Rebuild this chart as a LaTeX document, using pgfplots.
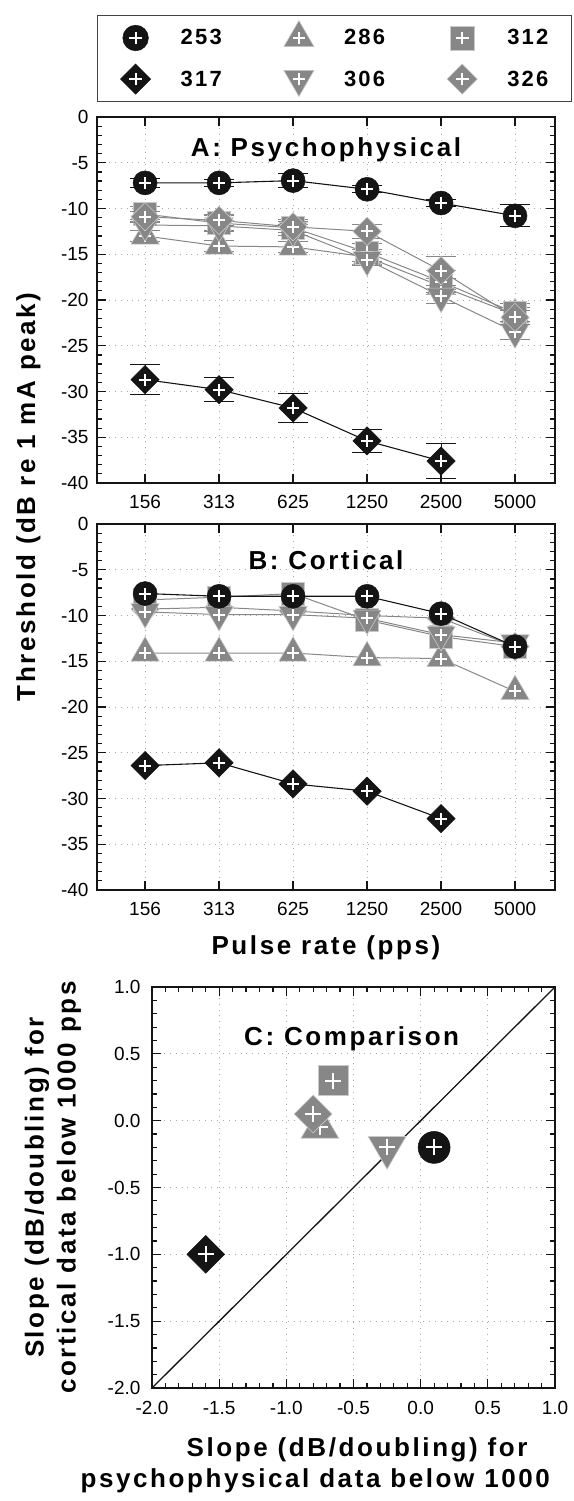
\documentclass[border=0pt]{standalone}
\usepackage{fontspec}
\setmainfont{Liberation Sans}
\newfontfamily\spaced[LetterSpace=10]{Liberation Sans}
\usepackage{pgfplots}
\pgfplotsset{compat=1.18}

\definecolor{ink}{RGB}{20,20,20}
\definecolor{midgray}{RGB}{135,135,135}
\definecolor{gridgray}{RGB}{170,170,170}
\newcommand\lbl{\spaced\bfseries\fontsize{26}{32}\selectfont}

% white cross on top of every filled marker
\newcommand\markplus{%
  \pgfscope
  \pgfsetstrokecolor{white}\pgfsetlinewidth{2pt}\pgfsetbuttcap
  \pgfpathmoveto{\pgfqpoint{-.5\pgfplotmarksize}{0pt}}%
  \pgfpathlineto{\pgfqpoint{.5\pgfplotmarksize}{0pt}}%
  \pgfpathmoveto{\pgfqpoint{0pt}{-.5\pgfplotmarksize}}%
  \pgfpathlineto{\pgfqpoint{0pt}{.5\pgfplotmarksize}}%
  \pgfusepathqstroke
  \endpgfscope}
\pgfdeclareplotmark{pcirc}{%
  \pgfpathcircle{\pgfpointorigin}{\pgfplotmarksize}\pgfusepathqfillstroke\markplus}
\pgfdeclareplotmark{pdiam}{%
  \pgfpathmoveto{\pgfqpoint{0pt}{1.18\pgfplotmarksize}}%
  \pgfpathlineto{\pgfqpoint{1.18\pgfplotmarksize}{0pt}}%
  \pgfpathlineto{\pgfqpoint{0pt}{-1.18\pgfplotmarksize}}%
  \pgfpathlineto{\pgfqpoint{-1.18\pgfplotmarksize}{0pt}}%
  \pgfpathclose\pgfusepathqfillstroke\markplus}
\pgfdeclareplotmark{psq}{%
  \pgfpathrectangle{\pgfqpoint{-.95\pgfplotmarksize}{-.95\pgfplotmarksize}}%
    {\pgfqpoint{1.9\pgfplotmarksize}{1.9\pgfplotmarksize}}%
  \pgfusepathqfillstroke\markplus}
\pgfdeclareplotmark{ptriu}{%
  \pgfpathmoveto{\pgfqpoint{0pt}{1.36\pgfplotmarksize}}%
  \pgfpathlineto{\pgfqpoint{1.18\pgfplotmarksize}{-.68\pgfplotmarksize}}%
  \pgfpathlineto{\pgfqpoint{-1.18\pgfplotmarksize}{-.68\pgfplotmarksize}}%
  \pgfpathclose\pgfusepathqfillstroke\markplus}
\pgfdeclareplotmark{ptrid}{%
  \pgfpathmoveto{\pgfqpoint{0pt}{-1.36\pgfplotmarksize}}%
  \pgfpathlineto{\pgfqpoint{1.18\pgfplotmarksize}{.68\pgfplotmarksize}}%
  \pgfpathlineto{\pgfqpoint{-1.18\pgfplotmarksize}{.68\pgfplotmarksize}}%
  \pgfpathclose\pgfusepathqfillstroke\markplus}

\pgfplotsset{
  blk/.style={ink, line width=1.1pt, mark size=12pt,
    mark options={solid, fill=ink, draw=ink, line width=0.5pt}},
  gry/.style={midgray, line width=1pt, mark size=12pt,
    mark options={solid, fill=midgray, draw=white!55!midgray, line width=0.6pt}},
  s253/.style={blk, mark=pcirc},
  s317/.style={blk, mark=pdiam},
  s286/.style={gry, mark=ptriu},
  s306/.style={gry, mark=ptrid},
  s312/.style={gry, mark=psq},
  s326/.style={gry, mark=pdiam},
  errs/.style={error bars/.cd, y dir=both, y explicit,
    error bar style={line width=1pt},
    error mark options={rotate=90, line width=1pt, mark size=15pt},
    /pgfplots/.cd},
  every axis/.append style={scale only axis,
    axis line style={line width=1.4pt, ink}, tick style={line width=1.2pt, ink},
    major tick length=9pt, minor tick length=5pt, tick align=inside,
    xtick pos=both, ytick pos=both,
    grid=major, grid style={line width=0.9pt, gridgray, dash pattern=on 0.9pt off 5pt},
    tick label style={font=\fontsize{19}{19}\selectfont},
    xticklabel style={yshift=-9pt}, yticklabel style={xshift=-5pt},
    /pgf/number format/assume math mode=true, clip mode=individual},
  rateaxis/.style={width=458pt, height=366pt, xmin=-0.65, xmax=5.54, ymin=-40, ymax=0,
    xtick={0,...,5}, xticklabels={156,313,625,1250,2500,5000},
    ytick={-40,-35,...,0}, minor y tick num=4},
}

\begin{document}
\begin{tikzpicture}
\useasboundingbox (0pt,0pt) rectangle (573pt,-1501pt);

% ---------- A: psychophysical ----------
\begin{axis}[rateaxis, name=A, at={(97pt,-117pt)}, anchor=north west,
  ylabel={Threshold (dB re 1 mA peak)},
  every axis y label/.style={at={(axis description cs:-0.135,-0.038)}, rotate=90, anchor=base, font=\lbl},
  legend columns=3,
  legend style={at={(axis description cs:0,1.041)}, anchor=south west,
    draw=ink!80, line width=1pt, inner xsep=23pt, inner ysep=5pt, row sep=13pt,
    font=\spaced\bfseries\fontsize{22}{22}\selectfont, nodes={inner sep=0pt},
    /tikz/every odd column/.style={column sep=30pt},
    /tikz/every even column/.style={column sep=62pt}},
  legend image code/.code={\path[draw=none, fill=none] (-13pt,-13pt) rectangle (13pt,13pt);
    \draw[#1] plot coordinates {(0pt,0pt)};},
]
\addlegendimage{s253, only marks, mark size=12.8pt}\addlegendentry{253}
\addlegendimage{s286, only marks, mark size=12.8pt}\addlegendentry{286}
\addlegendimage{s312, only marks, mark size=12.8pt}\addlegendentry{312}
\addlegendimage{s317, only marks, mark size=12.8pt}\addlegendentry{317}
\addlegendimage{s306, only marks, mark size=12.8pt}\addlegendentry{306}
\addlegendimage{s326, only marks, mark size=12.8pt}\addlegendentry{326}

\addplot[forget plot, s286, errs] coordinates {
  (0,-13.0) +- (0,0.6) (1,-14.1) +- (0,0.6) (2,-14.2) +- (0,0.6)
  (3,-15.3) +- (0,0.8) (4,-18.5) +- (0,0.9) (5,-21.6) +- (0,0.8)};
\addplot[forget plot, s312, errs] coordinates {
  (0,-10.6) +- (0,0.8) (1,-11.6) +- (0,0.8) (2,-12.1) +- (0,0.9)
  (3,-14.8) +- (0,1.0) (4,-18.0) +- (0,1.2) (5,-21.4) +- (0,1.0)};
\addplot[forget plot, s306, errs] coordinates {
  (0,-11.8) +- (0,0.6) (1,-11.9) +- (0,0.6) (2,-12.4) +- (0,0.6)
  (3,-15.6) +- (0,0.6) (4,-19.6) +- (0,0.8) (5,-23.5) +- (0,0.8)};
\addplot[forget plot, s326, errs] coordinates {
  (0,-10.9) +- (0,0.6) (1,-11.3) +- (0,0.6) (2,-12.0) +- (0,0.6)
  (3,-12.5) +- (0,0.8) (4,-16.8) +- (0,1.6) (5,-21.9) +- (0,0.8)};
\addplot[forget plot, s253, errs] coordinates {
  (0,-7.2) +- (0,0.5) (1,-7.2) +- (0,0.4) (2,-6.95) +- (0,0.8)
  (3,-7.9) +- (0,0.4) (4,-9.4) +- (0,0.4) (5,-10.8) +- (0,1.2)};
\addplot[forget plot, s317, errs] coordinates {
  (0,-28.7) +- (0,1.6) (1,-29.8) +- (0,1.3) (2,-31.8) +- (0,1.6)
  (3,-35.4) +- (0,1.3) (4,-37.6) +- (0,1.9)};
\node[anchor=base, font=\lbl] at (rel axis cs:0.5,0.8915) {A: Psychophysical};
\end{axis}

% ---------- B: cortical ----------
\begin{axis}[rateaxis, name=B, at={(97pt,-524pt)}, anchor=north west,
  xlabel={Pulse rate (pps)},
  every axis x label/.style={at={(axis description cs:0.5,-0.175)}, anchor=base, font=\lbl},
]
\addplot[s286] coordinates {(0,-14.1) (1,-14.1) (2,-14.1) (3,-14.6) (4,-14.7) (5,-18.3)};
\addplot[s326] coordinates {(0,-9.3) (1,-9.1) (2,-9.5) (3,-10.0) (4,-10.3) (5,-13.4)};
\addplot[s312] coordinates {(0,-8.3) (1,-8.0) (2,-7.6) (3,-10.5) (4,-12.3) (5,-13.4)};
\addplot[s306] coordinates {(0,-9.6) (1,-9.9) (2,-9.9) (3,-10.3) (4,-12.1) (5,-13.0)};
\addplot[s253] coordinates {(0,-7.6) (1,-7.9) (2,-7.9) (3,-7.9) (4,-9.8) (5,-13.4)};
\addplot[s317] coordinates {(0,-26.4) (1,-26.1) (2,-28.4) (3,-29.2) (4,-32.2)};
\node[anchor=base, font=\lbl] at (rel axis cs:0.5,0.875) {B: Cortical};
\end{axis}

% ---------- C: comparison ----------
\begin{axis}[name=C, at={(152pt,-987pt)}, anchor=north west, width=403pt, height=401pt,
  xmin=-2, xmax=1, ymin=-2, ymax=1,
  xtick={-2,-1.5,...,1}, ytick={-2,-1.5,...,1}, minor tick num=4,
  xticklabel style={yshift=-1pt}, yticklabel style={xshift=-3pt},
  /pgf/number format/.cd, fixed, fixed zerofill, precision=1, /pgfplots/.cd,
  xlabel={Slope (dB/doubling) for},
  every axis x label/.style={at={(axis description cs:0.509,-0.172)}, anchor=base, font=\lbl},
  ylabel={Slope (dB/doubling) for\\cortical data below 1000 pps},
  every axis y label/.style={at={(axis description cs:-0.246,0.5)}, rotate=90, anchor=center,
    align=center, font=\lbl},
]
\addplot[ink, line width=1.3pt] coordinates {(-2,-2) (1,1)};
\addplot[s312, only marks, mark size=16pt] coordinates {(-0.65,0.3)};
\addplot[s286, only marks, mark size=16pt] coordinates {(-0.75,-0.05)};
\addplot[s326, only marks, mark size=16pt] coordinates {(-0.8,0.05)};
\addplot[s306, only marks, mark size=16pt] coordinates {(-0.25,-0.2)};
\addplot[s253, only marks, mark size=16pt] coordinates {(0.1,-0.2)};
\addplot[s317, only marks, mark size=16pt] coordinates {(-1.6,-1.0)};
\node[anchor=base, font=\lbl] at (rel axis cs:0.4955,0.854) {C: Comparison};
\node[anchor=base west, font=\lbl] at (rel axis cs:-0.186,-0.249) {psychophysical data below 1000};
\end{axis}
\end{tikzpicture}
\end{document}
